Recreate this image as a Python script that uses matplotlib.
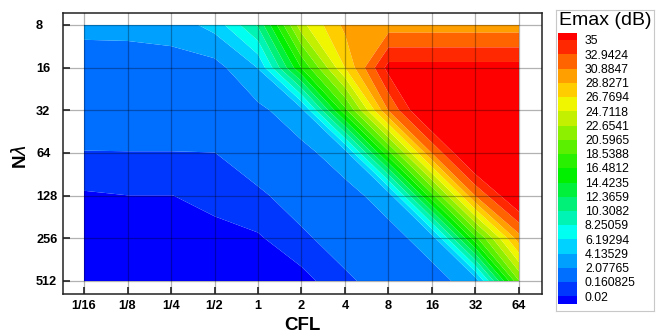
import numpy as np
import matplotlib.pyplot as plt
from matplotlib.colors import ListedColormap, BoundaryNorm
from matplotlib.patches import Rectangle

cfl = [1/16, 1/8, 1/4, 1/2, 1, 2, 4, 8, 16, 32, 64]
cfl_labels = ['1/16', '1/8', '1/4', '1/2', '1', '2', '4', '8', '16', '32', '64']
nlam = [8, 16, 32, 64, 128, 256, 512]

# Emax (dB): one row per N lambda (8 -> 512), one column per CFL
emax = [
    [2.74, 2.74, 2.94, 4.84, 10.6, 24.1, 29.4, 29.8, 29.8, 29.8, 29.8],
    [0.83, 0.97, 1.2, 1.3, 4.2, 16.6, 26.8, 35.8, 35.8, 35.8, 35.8],
    [0.65, 0.65, 0.65, 0.92, 1.58, 3.44, 17.9, 31, 39, 44, 46],
    [0.132, 0.14, 0.14, 0.151, 0.55, 1.48, 3.14, 17.9, 31, 39, 44],
    [0.0055, 0.019, 0.019, 0.035, 0.052, 0.46, 1.39, 2.94, 17.9, 31, 38],
    [0.004, 0.006, 0.006, 0.004, 0.015, 0.048, 0.46, 1.39, 2.94, 17.9, 30],
    [0.003, 0.004, 0.004, 0.003, 0.002, 0.006, 0.048, 0.46, 1.39, 2.94, 20.5],
]

levels = [0.02, 0.160825, 2.07765, 4.13529, 6.19294, 8.25059, 10.3082,
          12.3659, 14.4235, 16.4812, 18.5388, 20.5965, 22.6541, 24.7118,
          26.7694, 28.8271, 30.8847, 32.9424, 35]

# low -> high, first is below 0.02, last is above 35
band_colors = ['#0000ff', '#0037ff', '#006eff', '#00a0ff', '#00d2ff',
               '#00fff0', '#00f5b4', '#00f078', '#00f03c', '#00f000',
               '#28f000', '#5af000', '#8cf000', '#c3f000', '#f0f500',
               '#ffcd00', '#ffa000', '#ff6400', '#ff2800', '#ff0000']

plt.rcParams['font.family'] = ['Liberation Sans', 'DejaVu Sans']

fig = plt.figure(figsize=(6.64, 3.36), dpi=100)
ax = fig.add_axes([63/664, 1-294/336, 479/664, 281/336])

cmap = ListedColormap(band_colors[1:-1])
cmap.set_under(band_colors[0])
cmap.set_over(band_colors[-1])
norm = BoundaryNorm(levels, cmap.N)

x = np.log2(cfl)
y = np.log2(nlam)
ax.contourf(x, y, np.array(emax), levels=levels, cmap=cmap, norm=norm,
            extend='both', antialiased=True, zorder=1)

ax.set_xlim(-4.483, 6.529)
ax.set_ylim(9.305, 2.719)
ax.set_xticks(x)
ax.set_xticklabels(cfl_labels, fontsize=9.2, fontweight='bold')
ax.set_yticks(y)
ax.set_yticklabels([str(n) for n in nlam], fontsize=9.2, fontweight='bold')
for lab in ax.get_yticklabels():
    lab.set_horizontalalignment('left')
ax.tick_params(axis='both', direction='in', length=5, width=1.2, color='#222222')
ax.tick_params(axis='y', pad=19.4)
ax.tick_params(axis='x', pad=4.5)
ax.set_axisbelow(False)
ax.grid(True, color='k', alpha=0.3, lw=0.9)
for s in ax.spines.values():
    s.set_linewidth(1.1)
    s.set_color('#222222')

fig.text(302/664, 1-325/336, 'CFL', ha='center', va='center',
         fontsize=13.5, fontweight='bold')
fig.text(20/664, 1-157/336, r'N$\lambda$', ha='center', va='center',
         fontsize=13.5, fontweight='bold', rotation=90)

# legend box in pixel coordinates
lg = fig.add_axes([556/664, 1-311/336, 98/664, 301/336])
lg.set_xlim(556, 654)
lg.set_ylim(311, 10)
lg.set_xticks([])
lg.set_yticks([])
for s in lg.spines.values():
    s.set_color('#c8c8c8')
    s.set_linewidth(0.8)
lg.text(605, 20.5, 'Emax (dB)', ha='center', va='center', fontsize=14)

cell = 14.24
top = 33.0
tops = [top] + [top + cell / 2 + cell * k for k in range(19)]
bots = tops[1:] + [top + cell * 19]
for c, t, b in zip(band_colors[::-1], tops, bots):
    lg.add_patch(Rectangle((558, t), 19, b - t, facecolor=c, edgecolor='none'))
for k, v in enumerate(levels[::-1]):
    lg.text(585, top + cell / 2 + cell * k + 1.2, f'{v:g}', ha='left',
            va='center', fontsize=8.8)

fig.savefig('out.png', dpi=100)
